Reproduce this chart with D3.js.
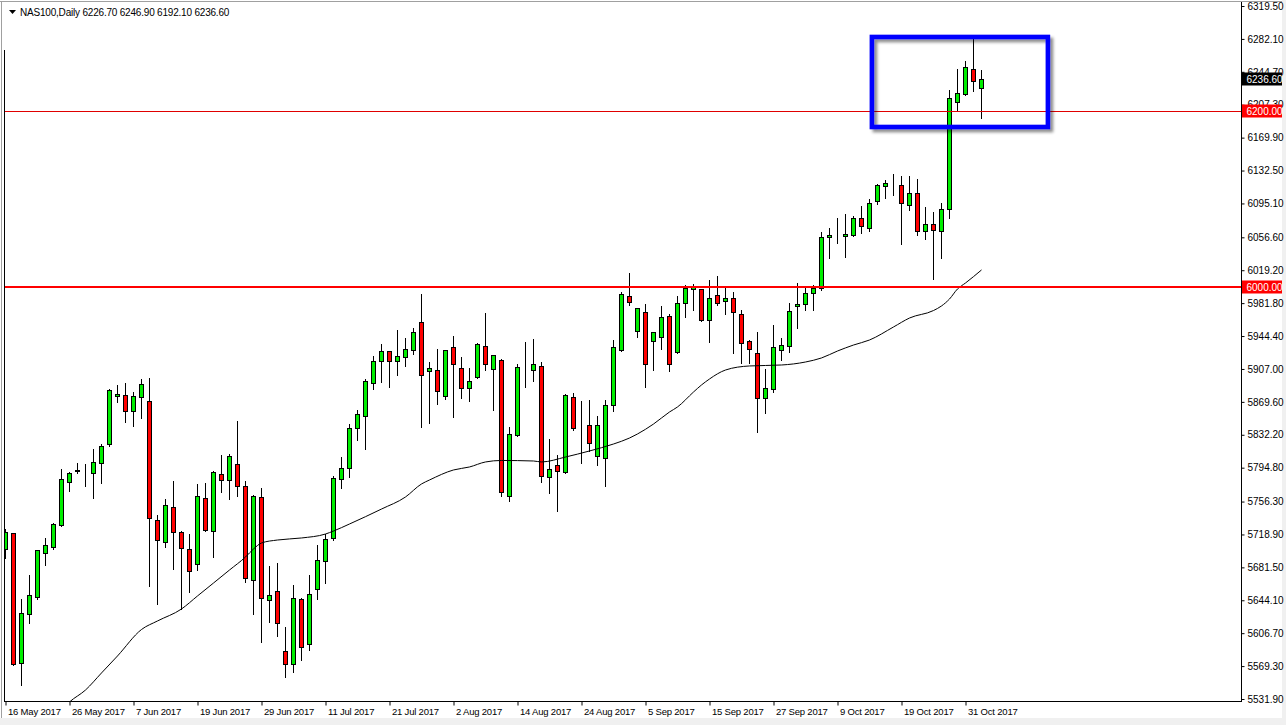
<!DOCTYPE html>
<html><head><meta charset="utf-8">
<script src="https://cdn.jsdelivr.net/npm/d3@7"></script>
<style>
html,body{margin:0;padding:0;background:#f0f0f0;overflow:hidden;}
svg{display:block;}
text{font-family:"Liberation Sans",Arial,sans-serif;}
</style></head><body>
<svg id="c" width="1286" height="725"></svg>
<script>
// ---------------- DATA ----------------
const symbolTitle = "NAS100,Daily";
const xTickLabels = ["16 May 2017","26 May 2017","7 Jun 2017","19 Jun 2017","29 Jun 2017","11 Jul 2017",
  "21 Jul 2017","2 Aug 2017","14 Aug 2017","24 Aug 2017","5 Sep 2017","15 Sep 2017","27 Sep 2017",
  "9 Oct 2017","19 Oct 2017","31 Oct 2017"];
const xTickIndex = [0,8,16,24,32,40,48,56,64,72,80,88,96,104,112,120];
const yTicks = [6319.50,6282.10,6244.70,6207.30,6169.90,6132.50,6095.10,6056.60,6019.20,5981.80,5944.40,
  5907.00,5869.60,5832.20,5794.80,5756.30,5718.90,5681.50,5644.10,5606.70,5569.30,5531.90];

const opens = [
5702.0,5720.2,5572.5,5628.2,5648.2,5697.5,5705.0,5729.3,5778.2,5791.4,
5791.4,5788.4,5799.8,5821.4,5875.9,5877.4,5858.9,5874.8,5870.2,5735.0,
5710.0,5749.8,5721.4,5702.0,5685.0,5760.0,5722.5,5787.3,5780.5,5798.6,
5773.6,5666.8,5761.1,5644.1,5654.3,5586.1,5571.3,5645.2,5594.1,5656.6,
5688.4,5714.9,5781.6,5794.1,5839.6,5853.2,5890.7,5915.7,5927.1,5915.7,
5920.3,5928.2,5960.0,5904.3,5905.5,5875.9,5931.6,5907.8,5885.0,5897.5,
5932.8,5906.6,5916.8,5762.3,5831.6,5905.5,5905.5,5910.0,5783.9,5797.5,
5789.6,5874.8,5841.4,5843.0,5807.7,5805.5,5865.7,5928.2,5989.6,5949.8,
5971.4,5938.4,5943.0,5966.8,5925.9,5981.6,5997.5,5997.5,5962.3,5990.7,
5983.9,5987.3,5969.1,5938.4,5924.8,5873.7,5883.9,5928.2,5932.8,5978.2,
5980.5,5993.0,5998.7,6056.6,6056.6,6057.8,6058.9,6078.2,6066.9,6097.5,
6114.6,6115.7,6115.7,6093.0,6106.6,6063.4,6071.4,6063.4,6089.1,6210.1,
6219.2,6247.6,6226.7];
const highs = [
5725.1,5720.6,5645.2,5672.8,5701.2,5714.5,5731.6,5793.3,5790.2,5799.8,
5798.6,5816.0,5821.7,5884.2,5888.8,5890.7,5880.5,5895.6,5897.1,5741.0,
5758.9,5779.7,5723.2,5719.1,5775.9,5777.1,5790.7,5809.2,5810.4,5847.5,
5779.7,5763.4,5771.4,5682.7,5686.1,5613.4,5661.1,5646.4,5672.5,5706.6,
5719.1,5785.4,5806.6,5844.1,5860.4,5895.3,5922.1,5935.4,5927.4,5950.9,
5941.8,5953.5,5992.2,5914.9,5929.3,5928.6,5944.5,5920.3,5907.8,5936.2,
5970.3,5922.9,5918.0,5840.7,5912.3,5937.3,5940.7,5914.9,5827.1,5808.9,
5878.2,5879.3,5870.2,5871.4,5853.2,5871.4,5939.6,5994.5,6016.1,5976.3,
5980.8,5949.4,5978.2,5969.1,5989.6,6002.4,6003.2,5997.8,6008.1,6012.3,
5998.7,5994.1,5973.7,5939.6,5948.7,5906.6,5956.6,5941.8,5981.6,6004.4,
5998.7,6002.1,6062.3,6066.9,6078.2,6082.8,6080.8,6091.9,6099.8,6116.9,
6121.4,6128.2,6126.3,6126.0,6122.5,6090.7,6085.0,6095.3,6223.7,6247.6,
6256.7,6283.9,6246.9];
const lows = [
5692.2,5570.5,5547.8,5618.6,5645.9,5684.5,5702.7,5728.5,5768.6,5788.4,
5774.3,5760.0,5777.7,5819.4,5869.8,5846.4,5842.5,5850.9,5660.7,5639.5,
5705.0,5679.3,5633.9,5653.2,5678.2,5722.5,5693.6,5766.8,5758.9,5762.6,
5664.5,5628.2,5596.4,5619.1,5603.2,5556.6,5562.3,5575.9,5587.3,5645.2,
5663.4,5712.6,5772.1,5784.6,5826.6,5816.4,5884.2,5892.5,5886.8,5900.5,
5910.7,5923.7,5841.4,5845.9,5866.8,5872.5,5852.7,5873.7,5870.2,5896.4,
5905.5,5860.0,5762.3,5756.6,5831.0,5886.8,5893.0,5778.2,5765.7,5745.6,
5788.4,5837.3,5799.8,5814.1,5798.2,5773.6,5858.9,5927.8,5979.4,5943.0,
5886.2,5906.2,5929.3,5904.3,5925.5,5965.7,5973.7,5961.2,5937.3,5979.4,
5969.1,5924.8,5913.4,5913.4,5835.0,5856.6,5880.5,5916.8,5926.6,5953.2,
5973.7,5973.7,5996.7,6032.8,6049.8,6033.9,6058.5,6061.2,6063.4,6094.1,
6101.0,6104.4,6048.7,6087.3,6058.9,6055.0,6008.9,6033.4,6078.2,6201.0,
6218.0,6222.6,6192.1];
const closes = [
5722.0,5571.7,5629.3,5649.8,5700.9,5706.6,5730.5,5781.6,5788.4,5791.6,
5791.2,5800.9,5819.1,5882.7,5878.5,5858.9,5875.9,5889.6,5737.3,5712.3,
5752.1,5721.4,5703.2,5677.0,5762.3,5724.3,5789.6,5780.5,5807.7,5773.6,
5669.1,5762.3,5646.4,5649.8,5617.9,5571.3,5646.4,5590.7,5650.9,5689.5,
5714.1,5782.7,5794.1,5839.6,5855.5,5893.3,5916.0,5927.1,5915.7,5921.4,
5929.3,5948.7,5899.8,5907.8,5881.6,5928.2,5912.3,5885.0,5893.0,5935.0,
5912.3,5922.5,5766.8,5832.7,5908.9,5905.7,5912.3,5785.0,5793.0,5790.7,
5877.1,5839.6,5841.2,5822.5,5843.0,5865.7,5931.6,5991.9,5982.8,5975.9,
5912.3,5949.0,5965.7,5912.3,5981.6,5998.7,5999.8,5962.3,5987.3,5981.6,
5987.3,5971.4,5936.2,5929.3,5873.7,5885.0,5931.6,5933.9,5972.5,5980.5,
5993.0,5998.7,6057.3,6058.9,6056.8,6060.0,6078.2,6069.1,6095.3,6115.7,
6118.0,6115.9,6095.3,6107.3,6063.4,6071.4,6064.6,6088.5,6214.6,6220.3,
6249.8,6233.9,6236.6];

// moving average (bar index, value)
const maIndex = [7,8,10,12,14,17,19,22,24,26,28,30,31,32,34,37,40,41,43,47,50,52,53,56,58,60,62,66,67,70,73,76,78,79,81,83,84,86,87,88,90,93,97,100,102,104,106,108,111,113,116,117,118,119,120,122];
const maValue = [5519.4,5528.5,5542.1,5561.5,5580.8,5610.9,5620.6,5634.2,5649.0,5663.7,5678.5,5693.3,5702.4,5709.2,5712.6,5714.9,5719.4,5722.8,5730.8,5747.8,5761.5,5776.3,5780.8,5792.2,5795.6,5801.3,5803.0,5802.4,5801.3,5806.9,5813.8,5821.7,5828.5,5833.1,5844.4,5858.1,5863.8,5880.8,5888.8,5895.6,5905.8,5910.4,5911.5,5914.9,5919.5,5927.4,5934.2,5939.9,5954.7,5964.9,5973.4,5978.6,5986.5,5997.9,6004.7,6019.5];

const hLevels = [6000.00, 6200.00];
const bidPrice = 6236.60;
const boxRange = {i0: 108.3, i1: 130.3, p0: 6284.3, p1: 6182.0};

// ---------------- DRAW ----------------
const svg = d3.select("#c");
const plotL = 4, plotR = 1241.5, plotT = 2, plotB = 701.5;

svg.append("rect").attr("x",0).attr("y",0).attr("width",1282).attr("height",718).attr("fill","#ffffff");
svg.append("line").attr("x1",0).attr("x2",1282).attr("y1",1.5).attr("y2",1.5).attr("stroke","#a0a0a0");
svg.append("line").attr("x1",1.5).attr("x2",1.5).attr("y1",1.5).attr("y2",718).attr("stroke","#a0a0a0");

const x = d3.scaleLinear().domain([0,122]).range([5.5,981.5]);
const y = d3.scaleLinear().domain([5531.9,6319.5]).range([699,6]);

const defs = svg.append("defs");
defs.append("clipPath").attr("id","plotclip").append("rect")
  .attr("x",plotL).attr("y",plotT).attr("width",plotR-plotL).attr("height",plotB-plotT);
const f = defs.append("filter").attr("id","shadow").attr("x","-10%").attr("y","-10%").attr("width","130%").attr("height","140%");
f.append("feDropShadow").attr("dx",3).attr("dy",3).attr("stdDeviation",1.6).attr("flood-color","#000").attr("flood-opacity",0.45);

const plot = svg.append("g").attr("clip-path","url(#plotclip)");

const data = opens.map((o,i)=>({i,o,h:highs[i],l:lows[i],c:closes[i]}));
const cg = plot.append("g");
const px = d => Math.round(x(d.i)-0.5)+0.5;
cg.selectAll("line.wick").data(data).enter().append("line").attr("class","wick")
  .attr("x1",px).attr("x2",px)
  .attr("y1",d=>Math.round(y(d.h))).attr("y2",d=>Math.round(y(d.l))+1)
  .attr("stroke","#000").attr("stroke-width",1);
cg.selectAll("rect.body").data(data).enter().append("rect").attr("class","body")
  .attr("x",d=>px(d)-2).attr("width",4)
  .attr("y",d=>Math.round(y(Math.max(d.o,d.c)))+0.5)
  .attr("height",d=>Math.max(0,Math.round(y(Math.min(d.o,d.c)))-Math.round(y(Math.max(d.o,d.c)))))
  .attr("fill",d=>d.c>=d.o?"#00ee00":"#ff0000")
  .attr("stroke","#000").attr("stroke-width",1);

// moving average
const maPts = maIndex.map((k,j)=>[k,maValue[j]]);
plot.append("path").datum(maPts)
  .attr("d",d3.line().x(d=>x(d[0])).y(d=>y(d[1])).curve(d3.curveMonotoneX))
  .attr("fill","none").attr("stroke","#000").attr("stroke-width",1);

// horizontal levels
plot.append("line").attr("x1",plotL).attr("x2",plotR).attr("y1",y(hLevels[0])).attr("y2",y(hLevels[0]))
  .attr("stroke","#ff0000").attr("stroke-width",2);
plot.append("line").attr("x1",plotL).attr("x2",plotR).attr("y1",Math.round(y(hLevels[1]))+0.5).attr("y2",Math.round(y(hLevels[1]))+0.5)
  .attr("stroke","#e00000").attr("stroke-width",1);

// left edge line
svg.append("line").attr("x1",4.5).attr("x2",4.5).attr("y1",50).attr("y2",plotB).attr("stroke","#000");

// axes
const yAxis = d3.axisRight(y).tickValues(yTicks).tickSize(3).tickPadding(3).tickFormat(d3.format(".2f"));
const ya = svg.append("g").attr("transform",`translate(${plotR},0)`).call(yAxis);
ya.select(".domain").remove();
ya.selectAll("text").attr("font-size",10).attr("font-family","Liberation Sans, Arial, sans-serif").attr("fill","#000");
ya.selectAll("line").attr("stroke","#000");
svg.append("line").attr("x1",plotR).attr("x2",plotR).attr("y1",plotT).attr("y2",plotB+0.5).attr("stroke","#000");

const xAxis = d3.axisBottom(x).tickValues(xTickIndex).tickSize(4).tickPadding(3).tickFormat((d,k)=>xTickLabels[k]);
const xa = svg.append("g").attr("transform",`translate(0,${plotB})`).call(xAxis);
xa.select(".domain").remove();
xa.selectAll("text").attr("font-size",9.5).attr("letter-spacing","-0.2px").attr("text-anchor","start").attr("x",2)
  .attr("font-family","Liberation Sans, Arial, sans-serif").attr("fill","#000");
xa.selectAll(".tick line").attr("stroke","#000");
svg.append("line").attr("x1",plotL).attr("x2",plotR).attr("y1",plotB).attr("y2",plotB).attr("stroke","#000");

// price labels on the axis
function priceTag(p, bg){
  const yy = Math.round(y(p));
  svg.append("rect").attr("x",plotR+0.5).attr("y",yy-6.5).attr("width",40).attr("height",13).attr("fill",bg);
  svg.append("text").attr("x",plotR+5).attr("y",yy).attr("dy","0.35em").attr("font-size",10)
    .attr("fill","#fff").text(d3.format(".2f")(p));
}
priceTag(bidPrice,"#000");
priceTag(hLevels[1],"#ff0000");
priceTag(hLevels[0],"#ff0000");

// highlight box
svg.append("rect")
  .attr("x",x(boxRange.i0)).attr("y",y(boxRange.p0))
  .attr("width",x(boxRange.i1)-x(boxRange.i0)).attr("height",y(boxRange.p1)-y(boxRange.p0))
  .attr("fill","none").attr("stroke","#0000ff").attr("stroke-width",4.6).attr("filter","url(#shadow)");

// title
svg.append("path").attr("d","M9,10 L16,10 L12.5,14 Z").attr("fill","#000");
svg.append("text").attr("x",20).attr("y",16).attr("font-size",10).attr("letter-spacing","-0.2px").attr("fill","#000")
  .text(symbolTitle + "  " + [opens[122],highs[122],lows[122],closes[122]].map(d3.format(".2f")).join(" "));
</script>
</body></html>
